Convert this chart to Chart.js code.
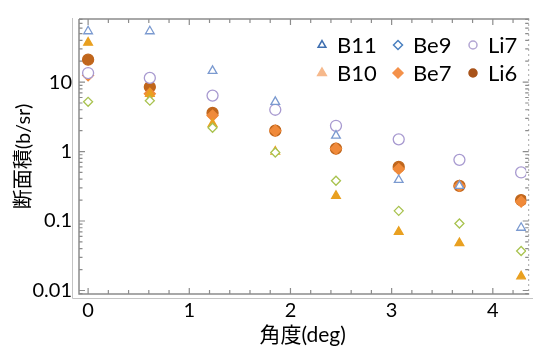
<!DOCTYPE html>
<html>
<head>
<meta charset="utf-8">
<script src="https://cdn.jsdelivr.net/npm/chart.js@4"></script>
<style>
  html, body { margin: 0; padding: 0; background: #fff; }
  #wrap { width: 533px; height: 348px; }
</style>
</head>
<body>
<div id="wrap"><canvas id="chart"></canvas></div>
<script>
// angle (deg) of each measured point
const angles = [0, 0.61, 1.23, 1.85, 2.45, 3.07, 3.67, 4.28];

// cross sections (b/sr)
const b11 = [54, 54, 14.5, 5.2, 1.7, 0.39, 0.32, 0.08];
const b10 = [37, 6.8, 2.5, 1.0, 0.23, 0.07, 0.048, 0.016];
const be9 = [5.2, 5.4, 2.2, 0.97, 0.38, 0.14, 0.092, 0.037];
const be7 = [12.5, 6.8, 3.3, 2.0, 1.1, 0.56, 0.32, 0.19];
const li7 = [13.5, 11.5, 6.4, 4.0, 2.35, 1.5, 0.76, 0.5];
const li6 = [21, 8.5, 3.6, 2.0, 1.1, 0.6, 0.32, 0.2];

const xTicks = [0, 1, 2, 3, 4];
const yTicks = [0.01, 0.1, 1, 10];
const yTickLabels = ['0.01', '0.1', '1', '10'];

const FONT = "Lato, 'Noto Sans CJK JP', sans-serif";
const GRAY = '#8c8c8c';

function pts(ys) {
    return angles.map((a, i) => ({ x: a, y: ys[i] }));
}

// legend entries (legend colours differ a bit from the marks in the original)
const legendItems = [
    { text: 'B11', style: 'triangle', fill: '#fff', stroke: '#3f6fb0', r: 4.5, col: 0, row: 0 },
    { text: 'Be9', style: 'rectRot', fill: '#fff', stroke: '#4a80c0', r: 4.5, col: 1, row: 0 },
    { text: 'Li7', style: 'circle', fill: '#fff', stroke: '#b3a6d3', r: 4, col: 2, row: 0 },
    { text: 'B10', style: 'triangle', fill: '#f6b98c', stroke: '#f6b98c', r: 5, col: 0, row: 1 },
    { text: 'Be7', style: 'rectRot', fill: '#f4914a', stroke: '#f4914a', r: 5, col: 1, row: 1 },
    { text: 'Li6', style: 'circle', fill: '#a9531a', stroke: '#a9531a', r: 4, col: 2, row: 1 }
];

// frame with inward ticks, like the original plot
const framePlugin = {
    id: 'frame',
    beforeDatasetsDraw(chart) {
        const { ctx, chartArea: a, scales } = chart;
        const xs = scales.x, ys = scales.y;
        ctx.save();
        // outer light frame
        ctx.strokeStyle = '#c4c4c4';
        ctx.lineWidth = 1;
        ctx.beginPath();
        ctx.moveTo(a.left - 6.5, a.top - 1);
        ctx.lineTo(a.left - 6.5, a.bottom + 4.5);
        ctx.lineTo(533, a.bottom + 4.5);
        ctx.stroke();

        ctx.strokeStyle = GRAY;
        ctx.lineWidth = 1.5;
        ctx.beginPath();
        ctx.moveTo(a.left, a.top);
        ctx.lineTo(a.left, a.bottom);
        ctx.lineTo(a.right + 3, a.bottom);
        ctx.moveTo(a.left, a.top);
        ctx.lineTo(a.right + 3, a.top);
        ctx.stroke();

        // right side dashed
        ctx.lineWidth = 1;
        ctx.strokeStyle = '#a8a8a8';
        ctx.setLineDash([2, 3]);
        ctx.beginPath();
        ctx.moveTo(a.right + 2.5, a.top);
        ctx.lineTo(a.right + 2.5, a.bottom);
        ctx.stroke();
        ctx.setLineDash([]);

        // x ticks every 0.2
        ctx.strokeStyle = GRAY;
        ctx.lineWidth = 1.2;
        ctx.beginPath();
        for (let k = 0; k <= 21; k++) {
            const v = k * 0.2;
            const px = xs.getPixelForValue(v);
            if (px > a.right + 2) break;
            const len = (k % 5 === 0) ? 6 : 4;
            ctx.moveTo(px, a.bottom);
            ctx.lineTo(px, a.bottom - len);
            ctx.moveTo(px, a.top);
            ctx.lineTo(px, a.top + len);
        }
        // y ticks: decades + minors
        for (let d = -3; d <= 1; d++) {
            for (let m = 1; m <= 9; m++) {
                const v = m * Math.pow(10, d);
                if (v < ys.min || v > ys.max) continue;
                const py = ys.getPixelForValue(v);
                const len = m === 1 ? 6 : 3.5;
                ctx.moveTo(a.left, py);
                ctx.lineTo(a.left + len, py);
                ctx.moveTo(a.right + 2.5, py);
                ctx.lineTo(a.right + 2.5 - len, py);
            }
        }
        ctx.stroke();
        ctx.restore();
    },
    afterDraw(chart) {
        const { ctx } = chart;
        const colX = [322, 398, 473];
        const rowY = [45, 73];
        ctx.save();
        ctx.font = '22px ' + FONT;
        ctx.textBaseline = 'middle';
        legendItems.forEach(it => {
            const x = colX[it.col], y = rowY[it.row];
            ctx.fillStyle = it.fill;
            ctx.strokeStyle = it.stroke;
            ctx.lineWidth = 1.5;
            Chart.helpers.drawPoint(ctx, { pointStyle: it.style, radius: it.r, rotation: 0, borderWidth: 1.5 }, x, y);
            ctx.fillStyle = '#000';
            ctx.fillText(it.text, x + 15, y + 1);
        });
        ctx.restore();
    }
};

function ds(label, data, style, fill, stroke, r) {
    return {
        label: label,
        data: pts(data),
        pointStyle: style,
        backgroundColor: fill,
        borderColor: stroke,
        borderWidth: 1.3,
        pointRadius: r,
        pointHoverRadius: r,
        showLine: false
    };
}

new Chart(document.getElementById('chart'), {
    type: 'scatter',
    data: {
        datasets: [
            ds('Be9', be9, 'rectRot', '#fff', '#a9c350', 4.5),
            ds('B10', b10, 'triangle', '#e9a020', '#e9a020', 5),
            ds('B11', b11, 'triangle', '#fff', '#7b9ad0', 5),
            ds('Li7', li7, 'circle', '#fff', '#a89ad0', 5.5),
            ds('Be7', be7, 'rectRot', '#f08a3a', '#f08a3a', 5.5),
            ds('Li6', li6, 'circle', '#c0661c', '#c0661c', 5.5)
        ]
    },
    plugins: [framePlugin],
    options: {
        responsive: true,
        maintainAspectRatio: false,
        animation: false,
        layout: { padding: { top: 13, right: 4, left: 0, bottom: 0 } },
        plugins: {
            legend: { display: false },
            tooltip: { enabled: false }
        },
        scales: {
            x: {
                type: 'linear',
                min: -0.09,
                max: 4.33,
                afterBuildTicks: s => { s.ticks = xTicks.map(v => ({ value: v })); },
                afterFit: s => { s.height = 54; },
                grid: { display: false, drawTicks: false },
                border: { display: false },
                ticks: {
                    padding: 5,
                    color: '#000',
                    font: { family: FONT, size: 20 },
                    maxRotation: 0
                },
                title: {
                    display: true,
                    text: '角度(deg)',
                    color: '#000',
                    font: { family: FONT, size: 21 },
                    padding: { top: 0, bottom: 0 }
                }
            },
            y: {
                type: 'logarithmic',
                min: 0.0089,
                max: 81,
                afterBuildTicks: s => { s.ticks = yTicks.map(v => ({ value: v })); },
                afterFit: s => { s.width = 79; },
                grid: { display: false, drawTicks: false },
                border: { display: false },
                ticks: {
                    padding: 7,
                    color: '#000',
                    font: { family: FONT, size: 20 },
                    callback: function (v) {
                        const i = yTicks.indexOf(v);
                        return i >= 0 ? yTickLabels[i] : '';
                    }
                },
                title: {
                    display: true,
                    text: '断面積(b/sr)',
                    color: '#000',
                    font: { family: FONT, size: 20 },
                    padding: { top: 12, bottom: 0 }
                }
            }
        }
    }
});
</script>
</body>
</html>
